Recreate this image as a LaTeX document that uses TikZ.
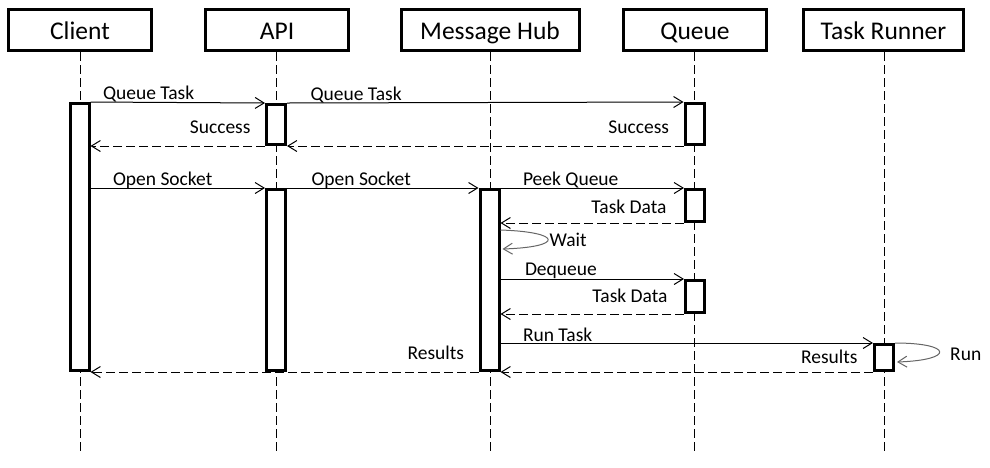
\documentclass[tikz,border=0pt]{standalone}
\usepackage{fontspec}
\setmainfont{Carlito}
\usetikzlibrary{arrows.meta,calc}
\begin{document}
\begin{tikzpicture}[x=1pt,y=-1pt,
  head/.style={draw, line width=3pt, minimum height=41pt, inner sep=0pt, text height=20pt, text depth=2pt, font=\fontsize{25.5}{28}\selectfont},
  act/.style={draw, line width=3pt, fill=white, minimum width=19pt, inner sep=0pt},
  life/.style={line width=1pt, dash pattern=on 9pt off 4pt},
  msg/.style={line width=1pt, -{Straight Barb[length=9pt,width=11pt]}},
  ret/.style={msg, dash pattern=on 9pt off 4pt},
  selfloop/.style={line width=1pt, draw=gray!80!black, -{Straight Barb[length=9pt,width=11pt]}},
  lbl/.style={inner sep=0pt, font=\fontsize{19.5}{22}\selectfont}]
\useasboundingbox (0,0) rectangle (990,467);

% headers
\node[head, minimum width=143pt] (client) at (80,30) {Client};
\node[head, minimum width=143pt] (api) at (277,30) {API};
\node[head, minimum width=178pt] (hub) at (490,30) {Message Hub};
\node[head, minimum width=143pt] (queue) at (695,30) {Queue};
\node[head, minimum width=160pt] (runner) at (883.5,30) {Task Runner};

% lifelines
\coordinate (clientEnd) at (80,454);
\coordinate (apiEnd) at (276,454);
\coordinate (hubEnd) at (490,454);
\coordinate (queueEnd) at (694,454);
\coordinate (runnerEnd) at (884,454);
\draw[life] (client.south -| clientEnd) -- (clientEnd);
\draw[life] (api.south -| apiEnd) -- (apiEnd);
\draw[life] (hub.south -| hubEnd) -- (hubEnd);
\draw[life] (queue.south -| queueEnd) -- (queueEnd);
\draw[life] (runner.south -| runnerEnd) -- (runnerEnd);

% activations
\node[act, minimum height=267pt] (cA) at (79.5,237) {};
\node[act, minimum height=40pt] (aA1) at (276,124.5) {};
\node[act, minimum height=41pt] (qA1) at (694.5,124) {};
\node[act, minimum height=181pt] (aA2) at (276,280) {};
\node[act, minimum height=181pt] (mA) at (489.5,280) {};
\node[act, minimum height=32pt] (qA2) at (695,205.5) {};
\node[act, minimum height=32pt] (qA3) at (695,296.5) {};
\node[act, minimum height=26pt] (tA) at (884,357.5) {};

% messages
\draw[msg] (cA.north east) -- (aA1.north west)
  node[lbl, pos=0, anchor=base west, xshift=12pt, yshift=3pt] {Queue Task};
\draw[msg] (aA1.north east) -- (qA1.north west)
  node[lbl, pos=0, anchor=base west, xshift=23pt, yshift=3pt] {Queue Task};
\draw[ret] (qA1.south west) -- (aA1.south east)
  node[lbl, pos=0, anchor=base east, xshift=-14pt, yshift=13pt] {Success};
\draw[ret] (aA1.south west) -- (cA.east |- aA1.south)
  node[lbl, pos=0, anchor=base east, xshift=-14pt, yshift=13pt] {Success};

\draw[msg] (cA.east |- aA2.north) -- (aA2.north west)
  node[lbl, pos=0, anchor=base west, xshift=22pt, yshift=3pt] {Open Socket};
\draw[msg] (aA2.north east) -- (mA.north west)
  node[lbl, pos=0, anchor=base west, xshift=24pt, yshift=3pt] {Open Socket};
\draw[msg] (mA.north east) -- (qA2.north west)
  node[lbl, pos=0, anchor=base west, xshift=22pt, yshift=3pt] {Peek Queue};
\draw[ret] (qA2.south west) -- (mA.east |- qA2.south)
  node[lbl, pos=0, anchor=base east, xshift=-17pt, yshift=10pt] {Task Data};

\draw[selfloop] ($(mA.north east)+(0,42)$) .. controls +(62,2) and +(62,-2) .. ($(mA.north east)+(2,61)$);
\node[lbl, anchor=west] (waitlbl) at ($(mA.north east)+(49,52)$) {Wait};

\draw[msg] (mA.east |- qA3.north) -- (qA3.north west)
  node[lbl, pos=0, anchor=base west, xshift=24pt, yshift=4pt] {Dequeue};
\draw[ret] (qA3.south west) -- (mA.east |- qA3.south)
  node[lbl, pos=0, anchor=base east, xshift=-16pt, yshift=12pt] {Task Data};

\draw[msg] (mA.east |- tA.north) -- (tA.north west)
  node[lbl, pos=0, anchor=base west, xshift=22pt, yshift=2pt] {Run Task};
\draw[selfloop] (tA.north east) .. controls +(58,0) and +(58,-2) .. ($(tA.north east)+(2,19)$);
\node[lbl, anchor=west] (runlbl) at ($(tA.north east)+(55,11)$) {Run};
\draw[ret] (tA.south west) -- (mA.south east)
  node[lbl, pos=0, anchor=base east, xshift=-15pt, yshift=9pt] {Results};
\draw[ret] (mA.south west) -- (cA.south east)
  node[lbl, pos=0, anchor=base east, xshift=-14pt, yshift=13pt] {Results};
\end{tikzpicture}
\end{document}
